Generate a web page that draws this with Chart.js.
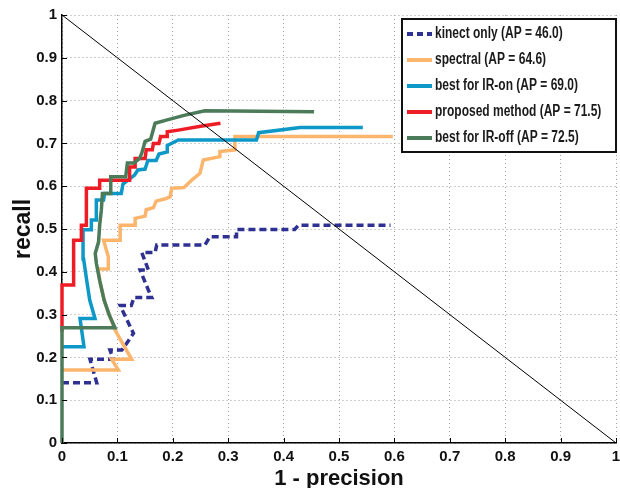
<!DOCTYPE html>
<html>
<head>
<meta charset="utf-8">
<script src="https://cdn.jsdelivr.net/npm/chart.js@4.4.1/dist/chart.umd.min.js"></script>
<style>
  body { margin: 0; background: #fff; }
  #wrap { width: 620px; height: 488px; }
</style>
</head>
<body>
<div id="wrap"><canvas id="grafico" width="620" height="488"></canvas></div>
<script>
// tick labels
const xTickLabels = ["0", "0.1", "0.2", "0.3", "0.4", "0.5", "0.6", "0.7", "0.8", "0.9", "1"];
const yTickLabels = ["0", "0.1", "0.2", "0.3", "0.4", "0.5", "0.6", "0.7", "0.8", "0.9", "1"];

// series names (legend)
const seriesNames = [
  "kinect only (AP = 46.0)",
  "spectral (AP = 64.6)",
  "best for IR-on (AP = 69.0)",
  "proposed method (AP = 71.5)",
  "best for IR-off (AP = 72.5)"
];

// kinect only (1 - precision, recall)
const kinectX = [0, 0.0626, 0.0505, 0.0926, 0.0866, 0.108, 0.129, 0.105, 0.125, 0.13, 0.162, 0.156, 0.141, 0.156, 0.144, 0.168, 0.171, 0.258, 0.267, 0.315, 0.315, 0.42, 0.427, 0.593];
const kinectY = [0.141, 0.141, 0.1955, 0.1955, 0.217, 0.217, 0.256, 0.321, 0.321, 0.34, 0.34, 0.357, 0.404, 0.404, 0.445, 0.445, 0.4626, 0.4626, 0.482, 0.482, 0.499, 0.499, 0.509, 0.509];

// spectral
const spectralX = [0, 0.1016, 0.0897, 0.1258, 0.0957, 0.085, 0.076, 0.068, 0.065, 0.0836, 0.0836, 0.075, 0.105, 0.105, 0.132, 0.132, 0.15, 0.152, 0.165, 0.17, 0.185, 0.195, 0.198, 0.22, 0.234, 0.249, 0.255, 0.285, 0.285, 0.312, 0.312, 0.597];
const spectralY = [0.1706, 0.1706, 0.1955, 0.1955, 0.264, 0.30, 0.334, 0.38, 0.4066, 0.4066, 0.435, 0.474, 0.474, 0.509, 0.509, 0.525, 0.53, 0.545, 0.55, 0.565, 0.57, 0.575, 0.595, 0.597, 0.614, 0.63, 0.661, 0.669, 0.681, 0.685, 0.716, 0.716];

// best for IR-on
const irOnX = [0, 0.0397, 0.0325, 0.0596, 0.05, 0.0445, 0.039, 0.038, 0.053, 0.053, 0.062, 0.062, 0.075, 0.077, 0.107, 0.11, 0.119, 0.131, 0.137, 0.15, 0.155, 0.17, 0.175, 0.19, 0.19, 0.21, 0.351, 0.355, 0.43, 0.543];
const irOnY = [0.225, 0.225, 0.291, 0.291, 0.334, 0.381, 0.43, 0.498, 0.498, 0.521, 0.521, 0.568, 0.568, 0.583, 0.583, 0.605, 0.614, 0.626, 0.638, 0.64, 0.66, 0.66, 0.675, 0.68, 0.695, 0.708, 0.708, 0.725, 0.737, 0.737];

// proposed method
const proposedX = [0, 0, 0.021, 0.021, 0.035, 0.035, 0.044, 0.044, 0.068, 0.068, 0.122, 0.122, 0.132, 0.132, 0.15, 0.152, 0.163, 0.165, 0.175, 0.178, 0.19, 0.19, 0.21, 0.25, 0.286];
const proposedY = [0.26, 0.369, 0.369, 0.474, 0.474, 0.509, 0.509, 0.595, 0.595, 0.614, 0.614, 0.645, 0.645, 0.665, 0.665, 0.685, 0.685, 0.70, 0.70, 0.716, 0.716, 0.727, 0.731, 0.74, 0.747];

// best for IR-off
const irOffX = [0, 0, 0.0957, 0.085, 0.076, 0.068, 0.062, 0.06, 0.066, 0.068, 0.071, 0.073, 0.088, 0.088, 0.115, 0.118, 0.13, 0.14, 0.144, 0.15, 0.16, 0.168, 0.19, 0.222, 0.258, 0.455];
const irOffY = [0, 0.269, 0.269, 0.30, 0.334, 0.38, 0.42, 0.443, 0.47, 0.509, 0.544, 0.583, 0.583, 0.622, 0.622, 0.654, 0.654, 0.665, 0.677, 0.705, 0.71, 0.747, 0.755, 0.766, 0.776, 0.774];

// diagonal reference line
const diagX = [0, 1];
const diagY = [1, 0];

const colores = ["#2E3192", "#FBB56C", "#0E98C7", "#EE1D25", "#4B7B59"];
const fuente = "'Liberation Sans', Arial, Helvetica, sans-serif";

function puntos(xs, ys) {
  return xs.map((x, i) => ({ x: x, y: ys[i] }));
}

function serie(xs, ys, color, orden, dash) {
  return {
    data: puntos(xs, ys),
    borderColor: color,
    borderWidth: 3.5,
    borderDash: dash || [],
    pointRadius: 0,
    tension: 0,
    fill: false,
    clip: 5,
    order: orden
  };
}

// legend box drawn inside the plot + inward tick marks
const legendaCaja = {
  id: "legendaCaja",
  afterDraw(chart) {
    const ctx = chart.ctx;
    const area = chart.chartArea;
    const sx = chart.scales.x, sy = chart.scales.y;

    ctx.save();
    ctx.strokeStyle = "#000";
    ctx.lineWidth = 1;
    for (const t of sx.ticks) {
      const px = Math.round(sx.getPixelForValue(t.value)) + 0.5;
      ctx.beginPath(); ctx.moveTo(px, area.bottom); ctx.lineTo(px, area.bottom - 5); ctx.stroke();
    }
    for (const t of sy.ticks) {
      const py = Math.round(sy.getPixelForValue(t.value)) + 0.5;
      ctx.beginPath(); ctx.moveTo(area.left, py); ctx.lineTo(area.left + 5, py); ctx.stroke();
    }

    const bx = 402, by = 19, bw = 214, bh = 133;
    ctx.fillStyle = "#fff";
    ctx.fillRect(bx, by, bw, bh);
    ctx.lineWidth = 2;
    ctx.strokeStyle = "#111";
    ctx.strokeRect(bx, by, bw, bh);

    ctx.font = "bold 12px " + fuente;
    ctx.textBaseline = "middle";
    ctx.textAlign = "left";
    seriesNames.forEach((nombre, i) => {
      const yy = 34 + i * 26;
      ctx.beginPath();
      ctx.lineWidth = 4;
      ctx.strokeStyle = colores[i];
      ctx.setLineDash(i === 0 ? [6, 4] : []);
      ctx.moveTo(407, yy);
      ctx.lineTo(432, yy);
      ctx.stroke();
      ctx.setLineDash([]);
      ctx.fillStyle = "#1a1a1a";
      // text looks vertically stretched in the original figure
      ctx.save();
      ctx.translate(435, yy);
      ctx.scale(1, 1.3);
      ctx.fillText(nombre, 0, 0);
      ctx.restore();
    });
    ctx.restore();
  }
};

addEventListener("DOMContentLoaded", function () {
  generarGrafico();
});

function generarGrafico() {
  const ejeComun = {
    type: "linear",
    min: 0,
    max: 1,
    grid: { color: "#a0a0a0", lineWidth: 1, drawTicks: false },
    border: { display: true, color: "#000", width: 1.5, dash: [1, 3] }
  };

  new Chart("grafico", {
    type: "line",
    data: {
      datasets: [
        serie(kinectX, kinectY, colores[0], 5, [7, 4]),
        serie(spectralX, spectralY, colores[1], 4),
        serie(irOnX, irOnY, colores[2], 3),
        serie(proposedX, proposedY, colores[3], 2),
        serie(irOffX, irOffY, colores[4], 1),
        {
          data: puntos(diagX, diagY),
          borderColor: "#000",
          borderWidth: 1,
          pointRadius: 0,
          fill: false,
          order: 0
        }
      ]
    },
    options: {
      responsive: false,
      animation: false,
      layout: { padding: { top: 15, right: 4, left: 0, bottom: 0 } },
      plugins: { legend: { display: false }, tooltip: { enabled: false } },
      scales: {
        x: Object.assign({}, ejeComun, {
          ticks: {
            stepSize: 0.1, padding: 5, autoSkip: false, maxRotation: 0,
            color: "#111",
            font: { family: fuente, size: 15, weight: "bold" },
            callback: (v, i) => xTickLabels[i]
          },
          title: {
            display: true, text: "1 - precision", color: "#111",
            font: { family: fuente, size: 22, weight: "bold", lineHeight: 1 },
            padding: { top: 0, bottom: -2 }
          },
          afterFit(scale) {
            scale.height = 45;
            scale.paddingRight = 0;
            scale.paddingLeft = 0;
          }
        }),
        y: Object.assign({}, ejeComun, {
          ticks: {
            stepSize: 0.1, padding: 5, autoSkip: false,
            color: "#111",
            font: { family: fuente, size: 15, weight: "bold" },
            callback: (v, i) => yTickLabels[i]
          },
          title: {
            display: true, text: "recall", color: "#111",
            font: { family: fuente, size: 23, weight: "bold", lineHeight: 1 },
            padding: { top: 12, bottom: 0 }
          },
          afterFit(scale) {
            scale.width = 62;
            scale.paddingTop = 0;
            scale.paddingBottom = 0;
          }
        })
      }
    },
    plugins: [legendaCaja]
  });
}
</script>
</body>
</html>
